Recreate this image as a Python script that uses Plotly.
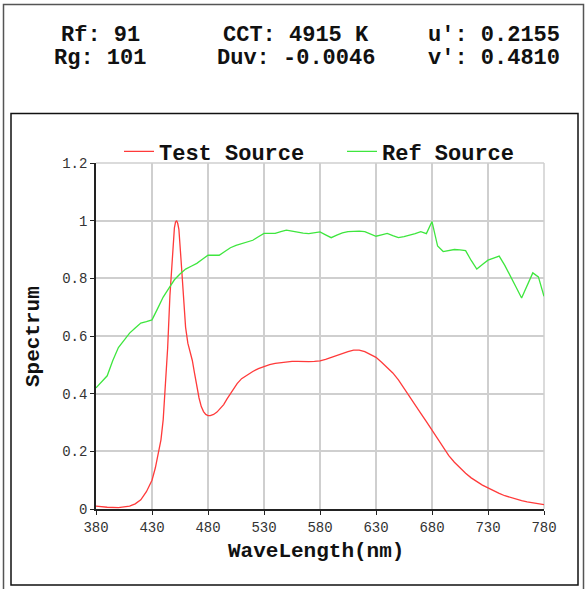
import plotly.graph_objects as go

# ---------------- data ----------------
test_wl = [380, 390, 400, 405, 410, 415, 420, 425, 430, 433, 436, 438, 440, 442, 444, 446,
           448, 450, 451, 452, 453, 454, 456, 458, 460, 462, 464, 466, 468, 470, 472, 474,
           476, 478, 480, 482, 485, 488, 491, 494, 497, 500, 503, 506, 510, 515, 520, 525,
           530, 535, 540, 545, 550, 555, 560, 565, 570, 575, 580, 585, 590, 595, 600, 605,
           610, 615, 620, 625, 630, 635, 640, 645, 650, 655, 660, 665, 670, 675, 680, 685,
           690, 695, 700, 705, 710, 715, 720, 725, 730, 735, 740, 745, 750, 755, 760, 765,
           770, 775, 780]
test_val = [0.010, 0.006, 0.005, 0.007, 0.010, 0.018, 0.032, 0.060, 0.100, 0.143, 0.195, 0.240,
            0.310, 0.420, 0.560, 0.740, 0.880, 0.975, 0.995, 1.000, 0.990, 0.970, 0.860, 0.730,
            0.630, 0.575, 0.545, 0.515, 0.470, 0.425, 0.385, 0.355, 0.338, 0.328, 0.324, 0.324,
            0.328, 0.336, 0.348, 0.362, 0.382, 0.400, 0.418, 0.435, 0.452, 0.466, 0.477, 0.487,
            0.495, 0.501, 0.505, 0.508, 0.511, 0.512, 0.512, 0.511, 0.511, 0.512, 0.514, 0.519,
            0.526, 0.533, 0.540, 0.546, 0.551, 0.551, 0.546, 0.537, 0.526, 0.509, 0.490, 0.472,
            0.448, 0.420, 0.392, 0.362, 0.332, 0.303, 0.274, 0.243, 0.213, 0.185, 0.162, 0.142,
            0.124, 0.108, 0.095, 0.083, 0.073, 0.063, 0.054, 0.046, 0.040, 0.034, 0.029, 0.025,
            0.021, 0.018, 0.015]

ref_wl = [380, 385, 390, 395, 400, 405, 410, 415, 420, 425, 430, 435, 440, 445, 450, 455,
          460, 465, 470, 475, 480, 485, 490, 495, 500, 505, 510, 515, 520, 525, 530, 535,
          540, 545, 550, 555, 560, 565, 570, 575, 580, 585, 590, 595, 600, 605, 610, 615,
          620, 625, 630, 635, 640, 645, 650, 655, 660, 665, 670, 675, 680, 685, 690, 695,
          700, 705, 710, 715, 720, 725, 730, 735, 740, 745, 750, 755, 760, 765, 770, 775, 780]
ref_val = [0.420, 0.440, 0.462, 0.515, 0.560, 0.585, 0.610, 0.628, 0.645, 0.650, 0.656, 0.695,
           0.735, 0.765, 0.795, 0.815, 0.832, 0.842, 0.852, 0.866, 0.880, 0.880, 0.880, 0.893,
           0.906, 0.914, 0.920, 0.926, 0.932, 0.944, 0.956, 0.956, 0.956, 0.962, 0.967, 0.964,
           0.960, 0.957, 0.955, 0.958, 0.961, 0.951, 0.941, 0.950, 0.958, 0.962, 0.964, 0.964,
           0.962, 0.954, 0.946, 0.951, 0.956, 0.948, 0.941, 0.945, 0.949, 0.955, 0.962, 0.955,
           0.997, 0.912, 0.893, 0.897, 0.900, 0.899, 0.896, 0.862, 0.832, 0.848, 0.863, 0.870,
           0.877, 0.845, 0.810, 0.770, 0.732, 0.776, 0.819, 0.805, 0.738]

series_names = ["Test Source", "Ref Source"]
header_lines = [["Rf: 91", "Rg: 101"], ["CCT: 4915 K", "Duv: -0.0046"], ["u': 0.2155", "v': 0.4810"]]
x_ticks = [380, 430, 480, 530, 580, 630, 680, 730, 780]
y_ticks = [0, 0.2, 0.4, 0.6, 0.8, 1, 1.2]
x_title = "WaveLength(nm)"
y_title = "Spectrum"

# ---------------- layout constants ----------------
W, H = 588, 589
ML, MR, MT, MB = 96, 44, 163, 80
PW, PH = W - ML - MR, H - MT - MB
BOLD = "Liberation Mono"


def px2x(px):
    return (px - ML) / PW


def px2y(py):
    return (H - MB - py) / PH


fig = go.Figure()
fig.add_trace(go.Scatter(x=test_wl, y=test_val, mode="lines", name=series_names[0],
                         line=dict(color="#ff3a3a", width=1.3)))
fig.add_trace(go.Scatter(x=ref_wl, y=ref_val, mode="lines", name=series_names[1],
                         line=dict(color="#3ee63e", width=1.3)))

annotations = []
col_x = [100, 296, 494]
row_y = [35, 59]
for cx, lines in zip(col_x, header_lines):
    for ry, txt in zip(row_y, lines):
        annotations.append(dict(text=txt, x=px2x(cx), y=px2y(ry), xref="paper", yref="paper",
                                xanchor="center", yanchor="middle", showarrow=False,
                                font=dict(family=BOLD, size=22, color="#111", weight="bold")))
annotations.append(dict(text=x_title, x=px2x(316), y=px2y(551), xref="paper", yref="paper",
                        xanchor="center", yanchor="middle", showarrow=False,
                        font=dict(family=BOLD, size=21, color="#111", weight="bold")))
annotations.append(dict(text=y_title, x=px2x(33), y=px2y(337), xref="paper", yref="paper",
                        xanchor="center", yanchor="middle", showarrow=False, textangle=-90,
                        font=dict(family=BOLD, size=21, color="#111", weight="bold")))

shapes = [
    # outer frame
    dict(type="rect", xref="paper", yref="paper", x0=px2x(3.5), x1=px2x(583.5),
         y0=px2y(595), y1=px2y(4.5), line=dict(color="#555", width=1.5)),
    # inner frame
    dict(type="rect", xref="paper", yref="paper", x0=px2x(11), x1=px2x(578),
         y0=px2y(585), y1=px2y(113.5), line=dict(color="#111", width=1.5)),
    # top & right border of plot area (grey, like gridlines)
    dict(type="line", xref="x domain", yref="y domain", x0=0, x1=1, y0=1, y1=1,
         line=dict(color="#cfcfcf", width=1.5), layer="below"),
    dict(type="line", xref="x domain", yref="y domain", x0=1, x1=1, y0=0, y1=1,
         line=dict(color="#cfcfcf", width=1.5), layer="below"),
]

tick_font = dict(family="Liberation Mono", size=14, color="#333")
fig.update_layout(
    width=W, height=H,
    margin=dict(l=ML, r=MR, t=MT, b=MB, pad=0, autoexpand=False),
    paper_bgcolor="white", plot_bgcolor="white",
    showlegend=True,
    legend=dict(orientation="h", x=px2x(565), xanchor="right", y=px2y(151.5), yanchor="middle",
                font=dict(family=BOLD, size=22, color="#111", weight="bold"),
                bgcolor="rgba(0,0,0,0)", entrywidth=178, entrywidthmode="pixels",
                itemwidth=30),
    annotations=annotations,
    shapes=shapes,
    xaxis=dict(range=[380, 780], tickvals=x_ticks, showgrid=True, gridcolor="#cfcfcf",
               gridwidth=1.5, zeroline=False, showline=True, linecolor="#222", linewidth=1.5,
               ticks="outside", ticklen=4, tickcolor="#222", tickfont=tick_font),
    yaxis=dict(range=[0, 1.2], tickvals=y_ticks, showgrid=True, gridcolor="#cfcfcf",
               gridwidth=1.5, zeroline=False, showline=True, linecolor="#222", linewidth=1.5,
               ticks="outside", ticklen=4, tickcolor="#222", tickfont=tick_font),
)

fig.write_html("out.html", config={"displayModeBar": False},
               post_script="document.body.style.margin='0';document.body.style.overflow='hidden';")
